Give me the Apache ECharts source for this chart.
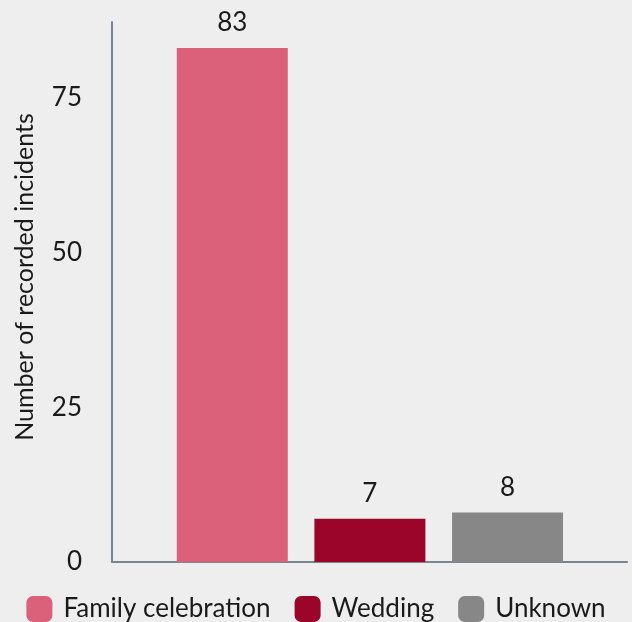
<!DOCTYPE html>
<html>
<head>
<meta charset="utf-8">
<script src="https://cdn.jsdelivr.net/npm/echarts@6/dist/echarts.min.js"></script>
<style>
html,body{margin:0;padding:0;background:#eeeeee;}
#chart{width:632px;height:622px;}
</style>
</head>
<body>
<div id="chart"></div>
<script>
const categories = ['Family celebration', 'Wedding', 'Unknown'];
const familyValues = [83];
const weddingValues = [7];
const unknownValues = [8];
const yTicks = [0, 25, 50, 75];
const yAxisTitle = 'Number of recorded incidents';

const colors = ['#db6079', '#9b0529', '#878787'];
const FONT = 'Lato, "Open Sans", sans-serif';
const axisColor = '#7b8591';
const yMax = 87.2;
const FS = 26;

const chart = echarts.init(document.getElementById('chart'), null, {renderer: 'canvas'});

function barSeries(name, data, color) {
  return {
    name: name,
    type: 'bar',
    xAxisIndex: 1,
    yAxisIndex: 1,
    data: data,
    barWidth: 111,
    barGap: '24%',
    itemStyle: {color: color},
    label: {
      show: true,
      position: 'top',
      distance: 12,
      color: '#1a1a1a',
      fontFamily: FONT,
      fontSize: FS
    }
  };
}

chart.setOption({
  backgroundColor: '#eeeeee',
  animation: false,
  textStyle: {fontFamily: FONT},
  grid: [
    {left: 112, right: 5, top: 22, bottom: 60},
    {left: 163.5, right: 55.7, top: 22, bottom: 60}
  ],
  legend: {
    data: categories,
    left: 'center',
    top: 596,
    padding: 0,
    icon: 'roundRect',
    itemWidth: 26,
    itemHeight: 26,
    itemGap: 24,
    textStyle: {
      color: '#1a1a1a',
      fontFamily: FONT,
      fontSize: FS,
      padding: [0, 0, 0, 6]
    }
  },
  xAxis: [
    {
      type: 'category',
      gridIndex: 0,
      data: [''],
      axisLine: {lineStyle: {color: axisColor, width: 2}},
      axisTick: {show: false},
      axisLabel: {show: false},
      splitLine: {show: false}
    },
    {
      type: 'category',
      gridIndex: 1,
      data: [''],
      show: false
    }
  ],
  yAxis: [
    {
      type: 'value',
      gridIndex: 0,
      min: 0,
      max: yMax,
      interval: 25,
      axisLine: {show: true, lineStyle: {color: axisColor, width: 2}},
      axisTick: {show: false},
      splitLine: {show: false},
      axisLabel: {
        showMaxLabel: false,
        margin: 30,
        color: '#1a1a1a',
        fontFamily: FONT,
        fontSize: FS,
        formatter: function (v) { return yTicks.indexOf(v) >= 0 ? String(v) : ''; }
      }
    },
    {
      type: 'value',
      gridIndex: 1,
      min: 0,
      max: yMax,
      show: false
    }
  ],
  graphic: [{
    type: 'text',
    rotation: Math.PI / 2,
    x: 25, y: 277,
    style: {
      text: yAxisTitle,
      fill: '#1a1a1a',
      font: '25px ' + FONT,
      textAlign: 'center',
      textVerticalAlign: 'middle'
    }
  }],
  series: [
    barSeries(categories[0], familyValues, colors[0]),
    barSeries(categories[1], weddingValues, colors[1]),
    barSeries(categories[2], unknownValues, colors[2])
  ]
});
</script>
</body>
</html>
